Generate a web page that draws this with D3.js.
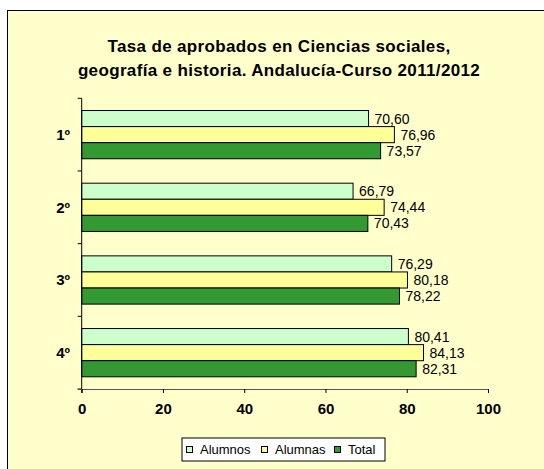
<!DOCTYPE html>
<html>
<head>
<meta charset="utf-8">
<script src="https://cdn.jsdelivr.net/npm/d3@7"></script>
<style>
  body { margin: 0; background: #fff; }
  text { font-family: "Liberation Sans", Arial, sans-serif; }
</style>
</head>
<body>
<script>
// data
const cursos = ["1º", "2º", "3º", "4º"];
const series = ["Alumnos", "Alumnas", "Total"];
const alumnos = [70.60, 66.79, 76.29, 80.41];
const alumnas = [76.96, 74.44, 80.18, 84.13];
const total = [73.57, 70.43, 78.22, 82.31];
const xTicks = [0, 20, 40, 60, 80, 100];
const colors = ["#ccffcc", "#ffff99", "#339933"];
const titleLines = ["Tasa de aprobados en Ciencias sociales,", "geografía e historia. Andalucía-Curso 2011/2012"];

const width = 544;
const height = 469;

const svg = d3.select("body").append("svg")
  .attr("width", width)
  .attr("height", height);

// chart area (right and bottom edges run off the picture)
svg.append("rect")
  .attr("x", 7.5)
  .attr("y", 10.5)
  .attr("width", width)
  .attr("height", height)
  .attr("fill", "#ffffcc")
  .attr("stroke", "#000")
  .attr("stroke-width", 1);

svg.append("g")
  .selectAll("text")
  .data(titleLines)
  .enter().append("text")
  .attr("x", 279)
  .attr("y", function (d, i) { return 52 + i * 23.5; })
  .attr("text-anchor", "middle")
  .attr("font-size", 17)
  .attr("letter-spacing", 0.35)
  .attr("font-weight", "bold")
  .attr("fill", "#000")
  .text(d => d);

const x = d3.scaleLinear().domain([0, 100]).range([81.7, 488]);
const y = d3.scaleBand().domain(cursos).range([98.3, 389]).paddingInner(0.336).paddingOuter(0.168);
const ySub = d3.scaleBand().domain(series).range([0, y.bandwidth()]);

const rows = cursos.map(function (c, i) {
  return { curso: c, values: [alumnos[i], alumnas[i], total[i]] };
});

// bars
const group = svg.selectAll("g.curso")
  .data(rows)
  .enter().append("g")
  .attr("class", "curso")
  .attr("transform", d => "translate(0," + y(d.curso) + ")");

group.selectAll("rect")
  .data(d => d.values.map((v, j) => ({ serie: series[j], value: v, color: colors[j] })))
  .enter().append("rect")
  .attr("x", x(0))
  .attr("y", d => ySub(d.serie))
  .attr("width", d => x(d.value) - x(0))
  .attr("height", ySub.bandwidth())
  .attr("fill", d => d.color)
  .attr("stroke", "#000")
  .attr("stroke-width", 1);

group.selectAll("text")
  .data(d => d.values.map((v, j) => ({ serie: series[j], value: v })))
  .enter().append("text")
  .attr("x", d => x(d.value) + 6)
  .attr("y", d => ySub(d.serie) + ySub.bandwidth() / 2)
  .attr("dy", "0.36em")
  .attr("font-size", 14)
  .attr("fill", "#000")
  .text(d => d3.format(".2f")(d.value).replace(".", ","));

// y axis: line, ticks between categories
const yAxis = svg.append("g");
yAxis.append("line")
  .attr("x1", x(0)).attr("x2", x(0))
  .attr("y1", y.range()[0]).attr("y2", y.range()[1] + 4)
  .attr("stroke", "#000");

yAxis.selectAll("line.tick")
  .data(d3.range(cursos.length + 1))
  .enter().append("line")
  .attr("class", "tick")
  .attr("x1", x(0) - 4).attr("x2", x(0))
  .attr("y1", i => y.range()[0] + i * y.step())
  .attr("y2", i => y.range()[0] + i * y.step())
  .attr("stroke", "#000");

yAxis.selectAll("text")
  .data(cursos)
  .enter().append("text")
  .attr("x", 70)
  .attr("y", d => y(d) + y.bandwidth() / 2)
  .attr("dy", "0.36em")
  .attr("text-anchor", "end")
  .attr("font-size", 15)
  .attr("font-weight", "bold")
  .text(d => d);

// x axis
const xAxis = svg.append("g")
  .attr("transform", "translate(0," + y.range()[1] + ")")
  .call(d3.axisBottom(x).tickValues(xTicks).tickSize(4).tickPadding(10).tickFormat(d3.format("d")));

xAxis.select(".domain")
  .attr("d", "M" + (x(0) - 4) + ",0.5H" + x(100))
  .attr("stroke", "#555");
xAxis.selectAll(".tick line").attr("stroke", "#000");
xAxis.selectAll(".tick text")
  .attr("font-family", "Liberation Sans, Arial, sans-serif")
  .attr("font-size", 15)
  .attr("font-weight", "bold")
  .attr("fill", "#000");

// legend
const legend = svg.append("g").attr("transform", "translate(182,438)");
legend.append("rect")
  .attr("width", 203)
  .attr("height", 23)
  .attr("fill", "#fff")
  .attr("stroke", "#000");

const legendX = [4, 79, 152];
const item = legend.selectAll("g.item")
  .data(series)
  .enter().append("g")
  .attr("class", "item")
  .attr("transform", (d, i) => "translate(" + legendX[i] + ",0)");

item.append("rect")
  .attr("x", 0.5)
  .attr("y", 8.5)
  .attr("width", 6)
  .attr("height", 6)
  .attr("fill", (d, i) => colors[i])
  .attr("stroke", "#000");

item.append("text")
  .attr("x", 14)
  .attr("y", 11.5)
  .attr("dy", "0.36em")
  .attr("font-size", 13)
  .text(d => d);
</script>
</body>
</html>
